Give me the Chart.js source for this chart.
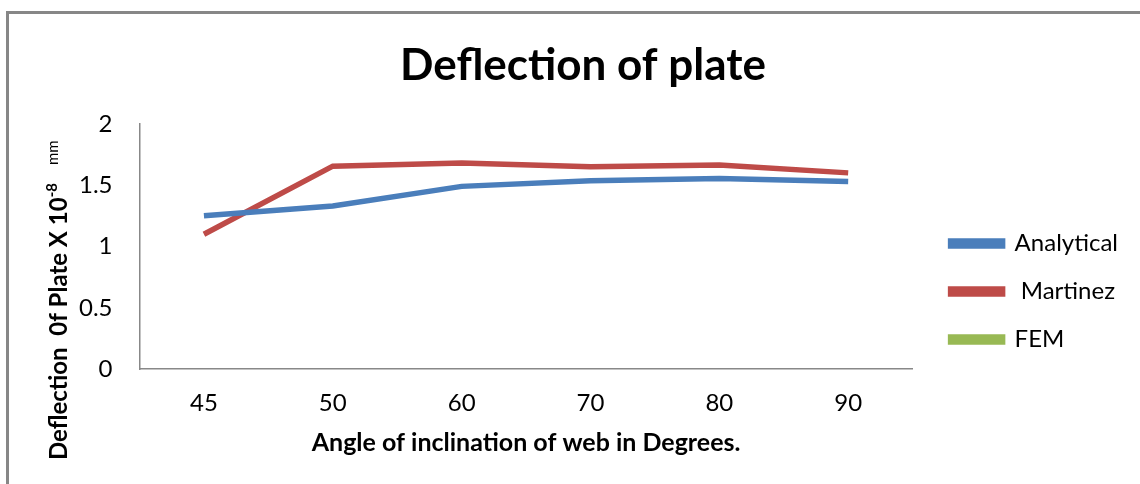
<!DOCTYPE html>
<html>
<head>
<meta charset="utf-8">
<script src="https://cdn.jsdelivr.net/npm/chart.js@4"></script>
<style>
  html, body { margin: 0; padding: 0; background: #fff; }
  #frame {
    position: absolute; left: 6px; top: 11px; width: 1200px; height: 500px;
    border-left: 3px solid #878787; border-top: 3px solid #878787;
  }
  #wrap { position: absolute; left: 0; top: 0; width: 1140px; height: 484px; }
</style>
</head>
<body>
<div id="frame"></div>
<div id="wrap"><canvas id="deflectionChart"></canvas></div>
<script>
// angles of web inclination (degrees)
const angles = ["45", "50", "60", "70", "80", "90"];

// deflection values x 10^-8 mm
const analytical = [1.25, 1.33, 1.49, 1.535, 1.555, 1.53];
const martinez = [1.10, 1.655, 1.68, 1.65, 1.665, 1.60];
const fem = [null, null, null, null, null, null];

const yTicks = [0, 0.5, 1, 1.5, 2];

const FONT = "Lato, 'Open Sans', sans-serif";

// y axis title with the superscript, drawn rotated
const yTitlePlugin = {
    id: "yTitle",
    afterDraw(chart) {
        const ctx = chart.ctx;
        ctx.save();
        ctx.translate(67, 460);
        ctx.rotate(-Math.PI / 2);
        ctx.fillStyle = "#000";
        ctx.textBaseline = "alphabetic";
        ctx.textAlign = "left";

        let x = 0;
        ctx.font = "bold 24px " + FONT;
        const main = "Deflection  0f Plate X 10";
        ctx.fillText(main, x, 0);
        x += ctx.measureText(main).width;

        ctx.font = "bold 15px " + FONT;
        ctx.fillText("-8", x, -10);
        x += ctx.measureText("-8").width + 18;

        ctx.font = "15px " + FONT;
        ctx.fillText("mm", x, -9);
        ctx.restore();
    },
};

// move the legend right and down to where the reference has it
const legendShift = {
    id: "legendShift",
    afterLayout(chart) {
        chart.legend.left += 14;
        chart.legend.right += 14;
        chart.legend.top += 51;
        chart.legend.bottom += 51;
    },
};

const ctx = document.getElementById("deflectionChart").getContext("2d");

new Chart(ctx, {
    type: "line",
    data: {
        labels: angles,
        datasets: [
            {
                label: "Analytical",
                data: analytical,
                borderColor: "#4a7ebb",
                backgroundColor: "#4a7ebb",
                borderWidth: 5.5,
                pointRadius: 0,
                tension: 0,
            },
            {
                label: " Martinez",
                data: martinez,
                borderColor: "#be4b48",
                backgroundColor: "#be4b48",
                borderWidth: 5.5,
                pointRadius: 0,
                tension: 0,
            },
            {
                label: "FEM",
                data: fem,
                borderColor: "#98b954",
                backgroundColor: "#98b954",
                borderWidth: 5.5,
                pointRadius: 0,
                tension: 0,
            },
        ],
    },
    options: {
        responsive: true,
        maintainAspectRatio: false,
        animation: false,
        layout: {
            padding: { left: 52, right: 26, top: 20, bottom: 23 },
        },
        plugins: {
            title: {
                display: true,
                text: "Deflection of plate",
                color: "#000",
                font: { family: FONT, size: 44, weight: "bold" },
                padding: { top: 19, bottom: 32 },
            },
            legend: {
                position: "right",
                labels: {
                    color: "#000",
                    font: { family: FONT, size: 24 },
                    boxWidth: 52,
                    boxHeight: 5,
                    padding: 24,
                },
            },
            tooltip: { enabled: false },
        },
        scales: {
            x: {
                offset: true,
                grid: { display: false, drawTicks: false },
                border: { color: "#888", width: 1.5 },
                ticks: {
                    color: "#000",
                    font: { family: FONT, size: 24 },
                    padding: 20,
                },
                title: {
                    display: true,
                    text: "Angle of inclination of web in Degrees.",
                    color: "#000",
                    font: { family: FONT, size: 25, weight: "bold" },
                    padding: { top: -10, bottom: 3 },
                },
            },
            y: {
                min: 0,
                max: 2,
                grid: { display: false, drawTicks: false },
                border: { color: "#888", width: 1.5 },
                afterBuildTicks(scale) {
                    scale.ticks = yTicks.map((v) => ({ value: v }));
                },
                ticks: {
                    color: "#000",
                    font: { family: FONT, size: 24 },
                    padding: 27,
                    callback: (v) => String(v),
                },
            },
        },
    },
    plugins: [yTitlePlugin, legendShift],
});
</script>
</body>
</html>
